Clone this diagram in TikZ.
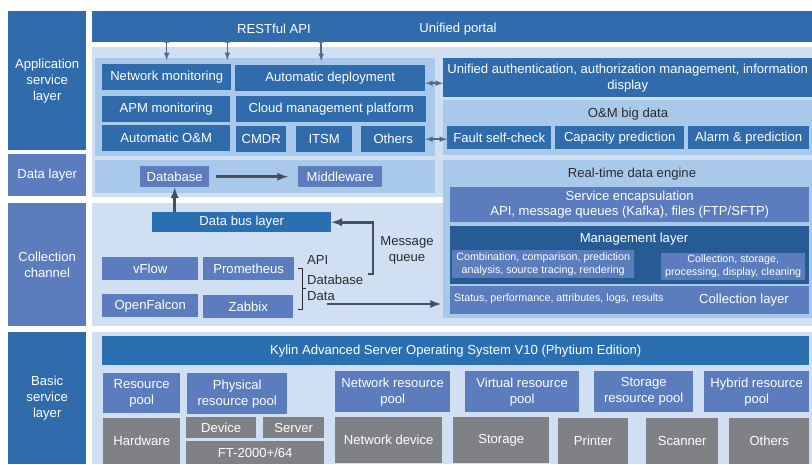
\documentclass[tikz,border=0pt]{standalone}
\usepackage{fontspec}
\setmainfont{Liberation Sans}
\definecolor{deepblue}{HTML}{306CAB}
\definecolor{busblue}{HTML}{2A70B0}
\definecolor{midblue}{HTML}{5B7DBD}
\definecolor{mgtblue}{HTML}{275B93}
\definecolor{panelblue}{HTML}{A9C9EA}
\definecolor{paleblue}{HTML}{D0E0F2}
\definecolor{hwgrey}{HTML}{808184}
\definecolor{arrowgrey}{HTML}{474F59}
\definecolor{linkblue}{HTML}{4F6A8B}
\definecolor{darktext}{HTML}{2B2B2B}
\begin{document}
\begin{tikzpicture}[x=1pt, y=-1pt, >=latex,
  every node/.style={font=\fontsize{13.1}{16}\selectfont, inner sep=0pt, align=center},
  blk/.style={fill=#1, text=white, anchor=north west},
  small/.style={font=\fontsize{10.7}{13}\selectfont},
  note/.style={text=darktext},
  fat/.style={->, line width=2.6pt, arrowgrey},
  dbl/.style={<->, line width=1.5pt, linkblue}]

\useasboundingbox (0,0) rectangle (812,464);

% Hintergrund
\fill[paleblue] (92,47) rectangle (812,197);
\fill[paleblue] (92,203) rectangle (812,326);
\fill[paleblue] (92,332) rectangle (812,464);
\fill[panelblue] (95,58) rectangle (435,156);
\fill[panelblue] (95,160) rectangle (435,193);

% Ebenen links
\node[blk=deepblue, minimum width=78, minimum height=139] (appl) at (8,11) {Application\\service\\layer};
\node[blk=midblue, minimum width=78, minimum height=42] (datal) at (8,154) {Data layer};
\node[blk=midblue, minimum width=78, minimum height=123] (collc) at (8,203) {Collection\\channel};
\node[blk=deepblue, minimum width=78, minimum height=132] (basic) at (8,332) {Basic\\service\\layer};

% Portal
\node[blk=deepblue, minimum width=720, minimum height=31] (portal) at (92,11) {};
\node[text=white] (rest) at (274,29) {RESTful API};
\node[text=white] (uniport) at (458,29) {Unified portal};

% Anwendungen
\node[blk=deepblue, minimum width=129, minimum height=26] (netmon) at (102,64) {Network monitoring};
\node[blk=deepblue, minimum width=190, minimum height=26] (autodep) at (235,65) {Automatic deployment};
\node[blk=deepblue, minimum width=128, minimum height=26] (apm) at (102,96) {APM monitoring};
\node[blk=deepblue, minimum width=190, minimum height=26] (cloud) at (236,96) {Cloud management platform};
\node[blk=deepblue, minimum width=128, minimum height=26] (autoom) at (102,125) {Automatic O\&M};
\node[blk=deepblue, minimum width=50, minimum height=26] (cmdr) at (236,126) {CMDR};
\node[blk=deepblue, minimum width=56, minimum height=26] (itsm) at (296,126) {ITSM};
\node[blk=deepblue, minimum width=64, minimum height=26] (others) at (361,126) {Others};

\node[blk=deepblue, minimum width=369, minimum height=39] (auth) at (443,58) {Unified authentication, authorization management, information\\display};
\node[blk=panelblue, minimum width=369, minimum height=55] (ombig) at (443,100) {};
\node[note] (ombigt) at (628,114) {O\&M big data};
\node[blk=deepblue, minimum width=104, minimum height=23] (fault) at (447,126) {Fault self-check};
\node[blk=deepblue, minimum width=129, minimum height=23] (capa) at (555,126) {Capacity prediction};
\node[blk=deepblue, minimum width=121, minimum height=23] (alarm) at (688,126) {Alarm \& prediction};

% Pfeile Portal
\draw[dbl] ([yshift=7]portal.south -| netmon) -- ([yshift=4]netmon.north);
\draw[dbl] ([xshift=-4,yshift=7]portal.south -| netmon.east) -- ([xshift=-4,yshift=4]netmon.north east);
\draw[dbl] ([xshift=-9,yshift=7]portal.south -| autodep) -- ([xshift=-9,yshift=4]autodep.north);
\draw[dbl] ([yshift=-5]autodep.east) -- ([yshift=-5]autodep.east -| auth.west);
\draw[dbl] (others.east) -- (others.east -| fault.west);

% Datenschicht
\node[blk=midblue, minimum width=69, minimum height=21] (db) at (140,166) {Database};
\node[blk=midblue, minimum width=84, minimum height=21] (mw) at (298,166) {Middleware};
\draw[fat] ([xshift=7]db.east) -- ([xshift=-10]mw.west);

% Echtzeit-Engine
\node[blk=panelblue, minimum width=369, minimum height=158] (engine) at (443,160) {};
\node[note] (enginet) at (632,174) {Real-time data engine};
\node[blk=midblue, minimum width=359, minimum height=35, font=\fontsize{13.1}{15}\selectfont] (svc) at (450,187) {Service encapsulation\\API, message queues (Kafka), files (FTP/SFTP)};
\node[blk=mgtblue, minimum width=359, minimum height=58] (mgmt) at (450,226) {};
\node[text=white] (mgmtt) at (634,239) {Management layer};
\node[blk=midblue, small, minimum width=182, minimum height=28] (sub1) at (452,250) {Combination, comparison, prediction\\analysis, source tracing, rendering};
\node[blk=midblue, small, minimum width=144, minimum height=27] (sub2) at (661,253) {Collection, storage,\\processing, display, cleaning};
\node[blk=midblue, minimum width=359, minimum height=28] (coll) at (450,286) {};
\node[small, text=white, anchor=west] (collt) at (454,299) {Status, performance, attributes, logs, results};
\node[text=white] (colll) at (744,300) {Collection layer};

% Sammelkanal
\node[blk=busblue, minimum width=179, minimum height=20] (databus) at (152,212) {Data bus layer};
\node[blk=midblue, minimum width=96, minimum height=23] (vflow) at (102,257) {vFlow};
\node[blk=midblue, minimum width=91, minimum height=23] (prom) at (203,257) {Prometheus};
\node[blk=midblue, minimum width=96, minimum height=23] (ofalcon) at (102,294) {OpenFalcon};
\node[blk=midblue, minimum width=90, minimum height=23] (zabbix) at (203,295) {Zabbix};
\draw[darktext, line width=0.8pt] (298,268) -- (302,268) -- (302,309) -- (298,309) (302,288) -- (306,288);
\node[note, anchor=west] (lblapi) at (307,260) {API};
\node[note, anchor=west] (lbldb) at (307,280) {Database};
\node[note, anchor=west] (lbldata) at (307,296) {Data};
\node[note] (msgq) at (407,250) {Message\\queue};
\coordinate (mqsrc) at (368,274);
\coordinate (datasrc) at (327,304);
\draw[fat] (databus.north -| db) -- (db.south);
\draw[fat] (mqsrc) -- ++(5,0) |- (databus.east);
\draw[fat] (datasrc) -- ([xshift=-2]datasrc -| engine.west);

% Basisdienste
\node[blk=busblue, minimum width=707, minimum height=29] (kylin) at (102,336) {Kylin Advanced Server Operating System V10 (Phytium Edition)};
\node[blk=midblue, minimum width=77, minimum height=40] (respool) at (103,373) {Resource\\pool};
\node[blk=midblue, minimum width=100, minimum height=41] (phys) at (187,373) {Physical\\resource pool};
\node[blk=midblue, minimum width=115, minimum height=41] (netpool) at (335,371) {Network resource\\pool};
\node[blk=midblue, minimum width=114, minimum height=41] (virt) at (465,371) {Virtual resource\\pool};
\node[blk=midblue, minimum width=99, minimum height=41] (storpool) at (594,371) {Storage\\resource pool};
\node[blk=midblue, minimum width=105, minimum height=41] (hybpool) at (704,371) {Hybrid resource\\pool};

\node[blk=hwgrey, minimum width=77, minimum height=46] (hw) at (103,418) {Hardware};
\node[blk=hwgrey, minimum width=70, minimum height=21] (dev) at (186,417) {Device};
\node[blk=hwgrey, minimum width=61, minimum height=21] (srv) at (263,417) {Server};
\node[blk=hwgrey, minimum width=138, minimum height=23] (ft) at (186,441) {FT-2000+/64};
\node[blk=hwgrey, minimum width=107, minimum height=46] (netdev) at (335,417) {Network device};
\node[blk=hwgrey, minimum width=96, minimum height=46] (storage) at (453,417) {Storage};
\node[blk=hwgrey, minimum width=70, minimum height=46] (printer) at (558,418) {Printer};
\node[blk=hwgrey, minimum width=72, minimum height=46] (scanner) at (646,418) {Scanner};
\node[blk=hwgrey, minimum width=80, minimum height=46] (hwothers) at (729,418) {Others};

\end{tikzpicture}
\end{document}
